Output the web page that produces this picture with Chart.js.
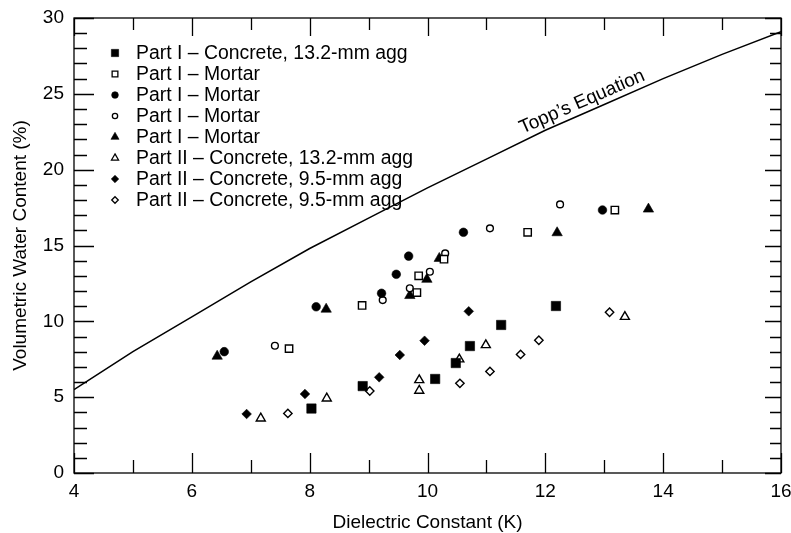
<!DOCTYPE html>
<html><head><meta charset="utf-8">
<script src="https://cdn.jsdelivr.net/npm/chart.js@4/dist/chart.umd.min.js"></script>
<style>html,body{margin:0;padding:0;background:#fff}#wrap{width:791px;height:533px}</style>
</head><body><div id="wrap"><canvas id="c" width="791" height="533"></canvas></div>
<script>
// ---- data ----
const xTitle = 'Dielectric Constant (K)';
const yTitle = 'Volumetric Water Content (%)';
const toppLabel = 'Topp\u2019s Equation';

const toppK = [4, 5, 6, 7, 8, 9, 10, 11, 12, 13, 14, 15, 16];
const toppV = [5.5, 8.0, 10.3, 12.6, 14.8, 16.8, 18.8, 20.7, 22.6, 24.3, 26.0, 27.6, 29.1];

const p1ConcreteK = [8.03, 8.90, 10.13, 10.48, 10.72, 11.25, 12.18];
const p1ConcreteV = [4.25, 5.73, 6.20, 7.25, 8.37, 9.76, 11.01];

const p1MortarSqK = [7.65, 8.89, 9.82, 9.85, 10.28, 11.70, 13.18];
const p1MortarSqV = [8.2, 11.05, 11.9, 13.0, 14.1, 15.87, 17.34];

const p1MortarDotK = [6.55, 8.11, 9.22, 9.47, 9.68, 10.61, 12.97];
const p1MortarDotV = [8.0, 10.96, 11.85, 13.1, 14.3, 15.87, 17.34];

const p1MortarRingK = [7.41, 9.24, 9.70, 10.04, 10.30, 11.06, 12.25];
const p1MortarRingV = [8.39, 11.4, 12.18, 13.27, 14.48, 16.13, 17.71];

const p1MortarTriK = [6.43, 8.28, 9.70, 9.99, 10.20, 12.20, 13.75];
const p1MortarTriV = [7.7, 10.8, 11.7, 12.77, 14.15, 15.84, 17.4];

const p2Concrete132K = [7.17, 8.29, 9.86, 9.86, 10.54, 10.99, 13.35];
const p2Concrete132V = [3.6, 4.92, 5.43, 6.13, 7.5, 8.44, 10.3];

const p2Concrete95aK = [6.93, 7.92, 9.18, 9.53, 9.95, 10.70];
const p2Concrete95aV = [3.89, 5.21, 6.31, 7.78, 8.72, 10.66];

const p2Concrete95bK = [7.63, 9.02, 10.55, 11.06, 11.58, 11.89, 13.09];
const p2Concrete95bV = [3.93, 5.41, 5.91, 6.7, 7.82, 8.75, 10.6];

const seriesLabels = [
  'Part I \u2013 Concrete, 13.2-mm agg',
  'Part I \u2013 Mortar',
  'Part I \u2013 Mortar',
  'Part I \u2013 Mortar',
  'Part I \u2013 Mortar',
  'Part II \u2013 Concrete, 13.2-mm agg',
  'Part II \u2013 Concrete, 9.5-mm agg',
  'Part II \u2013 Concrete, 9.5-mm agg'
];
const xTickStep = 2, yTickStep = 5;

// ---- build ----
const FONT = '"Liberation Sans", Arial, Helvetica, sans-serif';
const pts = (K, V) => K.map((k, i) => ({x: k, y: V[i]}));
function series(i, K, V, style, filled, r) {
  return {
    type: 'scatter', label: seriesLabels[i], data: pts(K, V),
    pointStyle: style, pointRadius: r, pointHoverRadius: r,
    pointBackgroundColor: filled ? '#000' : '#fff', backgroundColor: filled ? '#000' : '#fff',
    pointBorderColor: '#000', borderColor: '#000',
    pointBorderWidth: filled ? 0.6 : 1.4, borderWidth: filled ? 0.6 : 1.4,
    showLine: false, isMarker: true
  };
}
const datasets = [
  {type: 'line', label: 'Topp', data: pts(toppK, toppV), borderColor: '#000', borderWidth: 1.5,
   pointRadius: 0, fill: false, tension: 0, isMarker: false},
  series(0, p1ConcreteK, p1ConcreteV, 'rect', true, 6.6),
  series(1, p1MortarSqK, p1MortarSqV, 'rect', false, 5.2),
  series(2, p1MortarDotK, p1MortarDotV, 'circle', true, 4.3),
  series(3, p1MortarRingK, p1MortarRingV, 'circle', false, 3.4),
  series(4, p1MortarTriK, p1MortarTriV, 'triangle', true, 6.0),
  series(5, p2Concrete132K, p2Concrete132V, 'triangle', false, 5.2),
  series(6, p2Concrete95aK, p2Concrete95aV, 'rectRot', true, 4.8),
  series(7, p2Concrete95bK, p2Concrete95bV, 'rectRot', false, 4.2)
];

function drawMarker(ctx, style, r, x, y, filled, bw) {
  ctx.save();
  ctx.fillStyle = filled ? '#000' : '#fff';
  ctx.strokeStyle = '#000';
  ctx.lineWidth = bw;
  if (Chart.helpers && Chart.helpers.drawPoint) {
    Chart.helpers.drawPoint(ctx, {pointStyle: style, radius: r, rotation: 0, borderWidth: bw}, x, y);
  }
  ctx.restore();
}

const framePlugin = {
  id: 'frame',
  afterDatasetsDraw(chart) {
    const {ctx, chartArea: a, scales: {x, y}} = chart;
    ctx.save();
    ctx.strokeStyle = '#000';
    ctx.lineWidth = 1.3;
    ctx.strokeRect(a.left, a.top, a.right - a.left, a.bottom - a.top);
    ctx.beginPath();
    for (let k = x.min; k <= x.max + 1e-9; k += 1) {
      const px = Math.round(x.getPixelForValue(k)) + 0.5;
      const major = Math.abs(k % xTickStep) < 1e-9;
      const lb = major ? 20 : 13, lt = major ? 18 : 12;
      ctx.moveTo(px, a.bottom); ctx.lineTo(px, a.bottom - lb);
      ctx.moveTo(px, a.top); ctx.lineTo(px, a.top + lt);
    }
    for (let v = y.min; v <= y.max + 1e-9; v += 1) {
      const py = Math.round(y.getPixelForValue(v)) + 0.5;
      const major = Math.abs(v % yTickStep) < 1e-9;
      const ll = major ? 20 : 13, lr = major ? 16 : 11;
      ctx.moveTo(a.left, py); ctx.lineTo(a.left + ll, py);
      ctx.moveTo(a.right, py); ctx.lineTo(a.right - lr, py);
    }
    ctx.stroke();

    // Topp's Equation label, along the curve
    const i0 = toppK.indexOf(12), i1 = toppK.indexOf(14);
    const x0 = x.getPixelForValue(toppK[i0]), y0 = y.getPixelForValue(toppV[i0]);
    const x1 = x.getPixelForValue(toppK[i1]), y1 = y.getPixelForValue(toppV[i1]);
    const ang = Math.atan2(y1 - y0, x1 - x0);
    const lx = x.getPixelForValue(12.66), ly = y.getPixelForValue(24.15);
    ctx.translate(lx, ly);
    ctx.rotate(ang);
    ctx.fillStyle = '#000';
    ctx.font = '19px ' + FONT;
    ctx.textAlign = 'center';
    ctx.textBaseline = 'alphabetic';
    ctx.fillText(toppLabel, 0, 0);
    ctx.restore();

    // legend inside plot
    ctx.save();
    ctx.font = '19.4px ' + FONT;
    ctx.fillStyle = '#000';
    ctx.textAlign = 'left';
    ctx.textBaseline = 'middle';
    const mds = chart.data.datasets.filter(d => d.isMarker);
    mds.forEach((d, i) => {
      const cy = a.top + 35 + i * 21;
      const filled = d.pointBackgroundColor === '#000';
      drawMarker(ctx, d.pointStyle, d.pointRadius * 0.78, a.left + 41, cy, filled, filled ? 0.6 : 1.3);
      ctx.fillStyle = '#000';
      ctx.fillText(d.label, a.left + 62, cy + 1);
    });
    ctx.restore();
  }
};

new Chart(document.getElementById('c'), {
  type: 'scatter',
  data: {datasets},
  options: {
    responsive: false, animation: false, devicePixelRatio: 1,
    layout: {padding: {top: 18, right: 10, left: 0, bottom: 0}},
    plugins: {legend: {display: false}, tooltip: {enabled: false}},
    scales: {
      x: {
        type: 'linear', min: 4, max: 16,
        ticks: {stepSize: xTickStep, padding: 7, color: '#000', font: {family: FONT, size: 19}},
        grid: {display: false, drawTicks: false}, border: {display: false},
        title: {display: true, text: xTitle, color: '#000', font: {family: FONT, size: 19, lineHeight: 1}, padding: {top: 0, bottom: 1}},
        afterFit(s) { s.height = 60; s.paddingLeft = 0; s.paddingRight = 0; }
      },
      y: {
        type: 'linear', min: 0, max: 30,
        ticks: {stepSize: yTickStep, padding: 10, color: '#000', font: {family: FONT, size: 19}},
        grid: {display: false, drawTicks: false}, border: {display: false},
        title: {display: true, text: yTitle, color: '#000', font: {family: FONT, size: 19, lineHeight: 1}, padding: {top: 11, bottom: 0}},
        afterFit(s) { s.width = 74; s.paddingTop = 0; s.paddingBottom = 0; }
      }
    }
  },
  plugins: [framePlugin]
});
</script></body></html>
